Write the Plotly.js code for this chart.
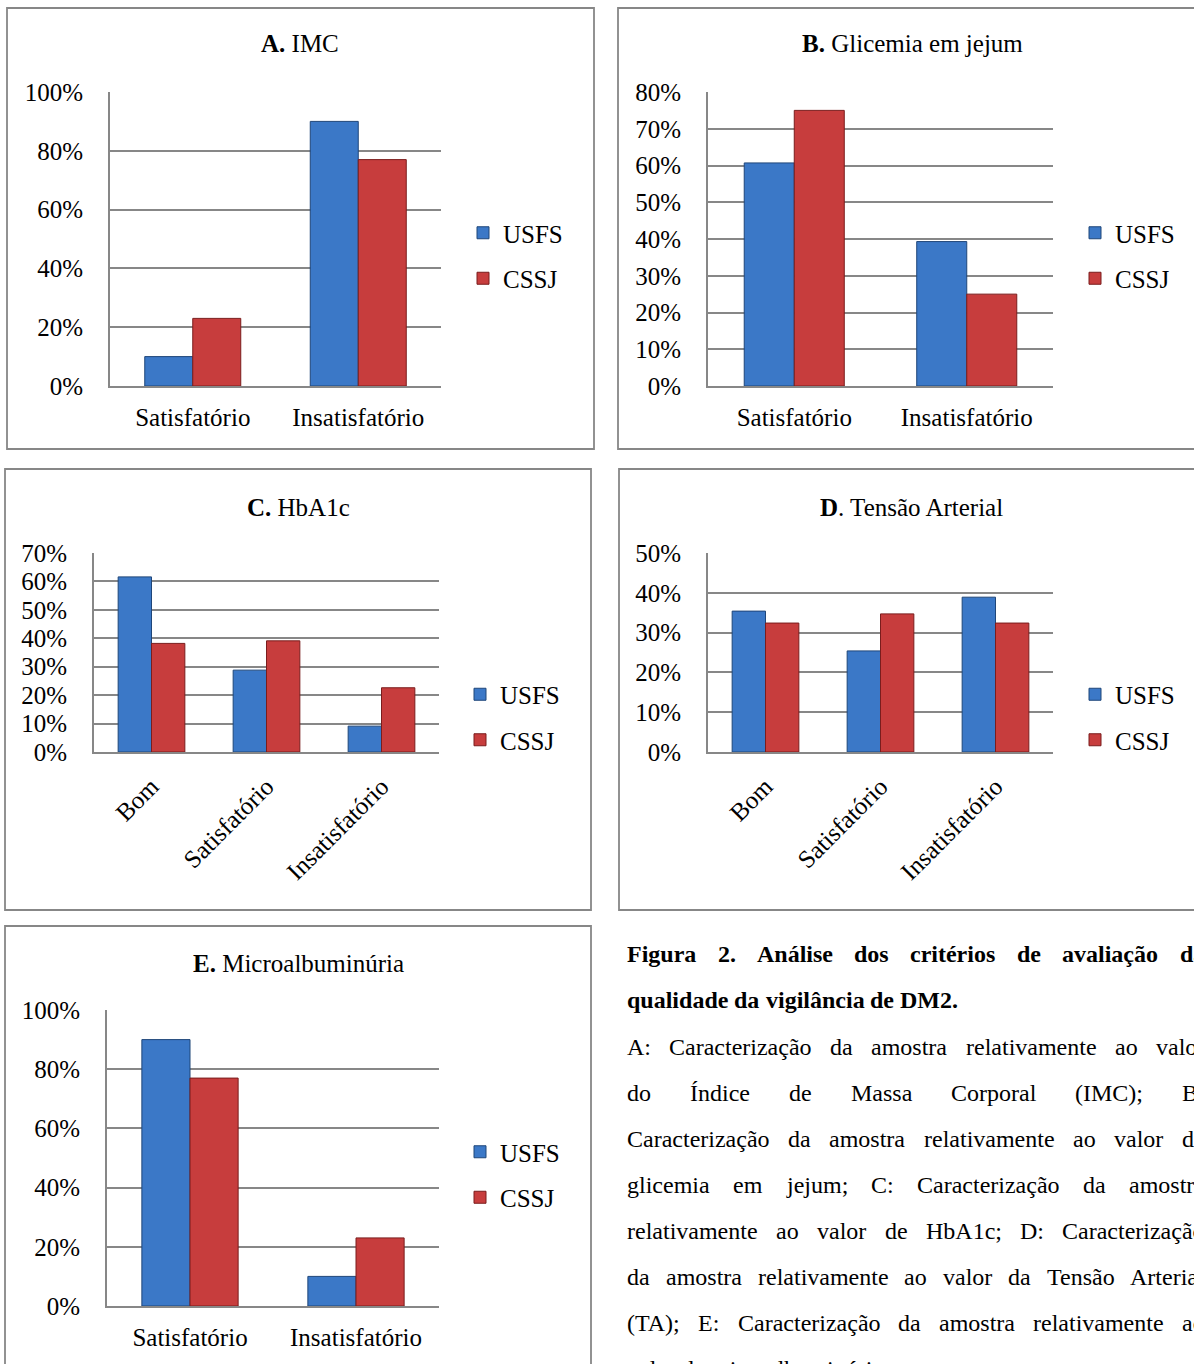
<!DOCTYPE html>
<html><head><meta charset="utf-8">
<script src="https://cdn.plot.ly/plotly-3.0.1.min.js"></script>
<style>html,body{margin:0;padding:0;overflow:hidden;background:#fff}</style>
</head><body><div id="chart" style="width:1194px;height:1364px"></div>
<script>
// ---------------- data ----------------
const seriesNames = ['USFS', 'CSSJ'];

const catsA = ['Satisfatório', 'Insatisfatório'];
const imcUSFS = [10, 90];
const imcCSSJ = [23, 77];

const catsB = ['Satisfatório', 'Insatisfatório'];
const glicUSFS = [60.7, 39.3];
const glicCSSJ = [75, 25];

const catsC = ['Bom', 'Satisfatório', 'Insatisfatório'];
const hbUSFS = [61.6, 28.8, 9.1];
const hbCSSJ = [38.2, 39.1, 22.6];

const catsD = ['Bom', 'Satisfatório', 'Insatisfatório'];
const taUSFS = [35.4, 25.4, 38.9];
const taCSSJ = [32.4, 34.7, 32.4];

const catsE = ['Satisfatório', 'Insatisfatório'];
const micUSFS = [90, 10];
const micCSSJ = [77, 23];

const panelTitles = ['<b>A.</b> IMC', '<b>B.</b> Glicemia em jejum', '<b>C.</b> HbA1c',
                     '<b>D</b>. Tensão Arterial', '<b>E.</b> Microalbuminúria'];
const yMax = [100, 80, 70, 50, 100];
const yStep = [20, 10, 10, 10, 20];

const captionBold = ['Figura 2. Análise dos critérios de avaliação da',
                     'qualidade da vigilância de DM2.'];
const captionBody = ['A: Caracterização da amostra relativamente ao valor',
                     'do Índice de Massa Corporal (IMC); B:',
                     'Caracterização da amostra relativamente ao valor da',
                     'glicemia em jejum; C: Caracterização da amostra',
                     'relativamente ao valor de HbA1c; D: Caracterização',
                     'da amostra relativamente ao valor da Tensão Arterial',
                     '(TA); E: Caracterização da amostra relativamente ao',
                     'valor da microalbuminúria.'];

// ---------------- layout geometry ----------------
const W = 1194, H = 1364;
const px = x => x / W;
const py = y => 1 - y / H;
const FONT = '"Liberation Serif", "Times New Roman", serif';
const CFONT = 'Liberation Serif';
const GRAY = '#878787';
const BLUE = '#3b78c7', BLUE_LINE = '#1f4679';
const RED = '#c73d3d', RED_LINE = '#7a1d1d';

const panels = [
  {cats: catsA, s1: imcUSFS, s2: imcCSSJ, dom: [110, 441, 92, 386], box: [7, 594, 8, 449], title: [300, 44], leg: [463, 255.5], angle: 0},
  {cats: catsB, s1: glicUSFS, s2: glicCSSJ, dom: [708, 1053, 92, 386], box: [618, 1212, 8, 449], title: [912, 44], leg: [1075, 255.5], angle: 0},
  {cats: catsC, s1: hbUSFS, s2: hbCSSJ, dom: [94, 439, 553, 752], box: [5, 591, 469, 910], title: [298, 507], leg: [460, 717], angle: -45},
  {cats: catsD, s1: taUSFS, s2: taCSSJ, dom: [708, 1053, 553, 752], box: [619, 1212, 469, 910], title: [911, 507], leg: [1075, 717], angle: -45},
  {cats: catsE, s1: micUSFS, s2: micCSSJ, dom: [107, 439, 1010, 1306], box: [5, 591, 926, 1390], title: [298, 963], leg: [460, 1174.5], angle: 0}
];

const data = [];
const layout = {
  width: W, height: H,
  margin: {l: 0, r: 0, t: 0, b: 0},
  paper_bgcolor: '#fff', plot_bgcolor: '#fff',
  showlegend: true,
  bargap: 0.42, bargroupgap: 0,
  font: {family: FONT, size: 25, color: '#000'},
  shapes: [], annotations: []
};

panels.forEach((p, i) => {
  const n = i + 1;
  const xa = 'x' + n, ya = 'y' + n;
  const legName = n === 1 ? 'legend' : 'legend' + n;
  [[p.s1, BLUE, BLUE_LINE], [p.s2, RED, RED_LINE]].forEach((s, k) => {
    data.push({
      type: 'bar', x: p.cats, y: s[0], name: seriesNames[k],
      xaxis: xa, yaxis: ya, legend: legName, legendgroup: 'g' + n + k,
      marker: {color: s[1], line: {color: s[2], width: 1}},
      hoverinfo: 'skip'
    });
  });
  layout['xaxis' + n] = {
    domain: [px(p.dom[0]), px(p.dom[1])], anchor: ya, type: 'category',
    showline: true, linecolor: GRAY, linewidth: 2, showgrid: false, ticks: '',
    tickangle: p.angle, ticklabelstandoff: 8,
    tickfont: {family: FONT, size: 25, color: '#000'}, fixedrange: true
  };
  layout['yaxis' + n] = {
    domain: [py(p.dom[3]), py(p.dom[2])], anchor: xa,
    range: [0, yMax[i]], dtick: yStep[i], tick0: 0, ticksuffix: '%',
    showline: true, linecolor: GRAY, linewidth: 2,
    showgrid: true, gridcolor: GRAY, gridwidth: 2, zeroline: false, ticks: '',
    ticklabelstandoff: 20,
    tickfont: {family: FONT, size: 25, color: '#000'}, fixedrange: true
  };
  layout[legName] = {
    x: px(p.leg[0]), y: py(p.leg[1]), xanchor: 'left', yanchor: 'middle',
    xref: 'paper', yref: 'paper', bgcolor: 'rgba(0,0,0,0)', borderwidth: 0,
    font: {family: FONT, size: 25, color: '#000'},
    tracegroupgap: 10, traceorder: 'grouped'
  };
  layout.shapes.push({
    type: 'rect', xref: 'paper', yref: 'paper',
    x0: px(p.box[0]), x1: px(p.box[1]), y0: py(p.box[3]), y1: py(p.box[2]),
    line: {color: GRAY, width: 1.8}, fillcolor: 'rgba(0,0,0,0)', layer: 'below'
  });
  layout.annotations.push({
    xref: 'paper', yref: 'paper', x: px(p.title[0]), y: py(p.title[1]),
    xanchor: 'center', yanchor: 'middle', showarrow: false, text: panelTitles[i],
    font: {family: FONT, size: 25, color: '#000'}
  });
});

// ---------------- caption (justified text) ----------------
const canvas = document.createElement('canvas');
const ctx = canvas.getContext('2d');
const capX0 = 626, capX1 = 1204, capFont = 24;
const capLines = [];
captionBold.forEach((t, j) => capLines.push({t, bold: true, justify: j < captionBold.length - 1}));
captionBody.forEach((t, j) => capLines.push({t, bold: false, justify: j < captionBody.length - 1}));
const capYs = [954, 1000, 1047, 1093, 1139, 1185, 1231, 1277, 1323, 1369];

capLines.forEach((ln, j) => {
  ctx.font = (ln.bold ? 'bold ' : '') + capFont + 'px "' + CFONT + '"';
  const words = ln.t.split(' ');
  const widths = words.map(w => ctx.measureText(w).width);
  const total = widths.reduce((a, b) => a + b, 0);
  const space = ctx.measureText(' ').width;
  const gap = (ln.justify && words.length > 1) ? (capX1 - capX0 - total) / (words.length - 1) : space;
  let x = capX0;
  words.forEach((w, k) => {
    layout.annotations.push({
      xref: 'paper', yref: 'paper', x: px(x - 1), y: py(capYs[j]),
      xanchor: 'left', yanchor: 'middle', showarrow: false,
      text: ln.bold ? '<b>' + w + '</b>' : w,
      font: {family: FONT, size: capFont, color: '#000'}
    });
    x += widths[k] + gap;
  });
});

Plotly.newPlot('chart', data, layout, {displayModeBar: false, staticPlot: true});
</script>
</body></html>
